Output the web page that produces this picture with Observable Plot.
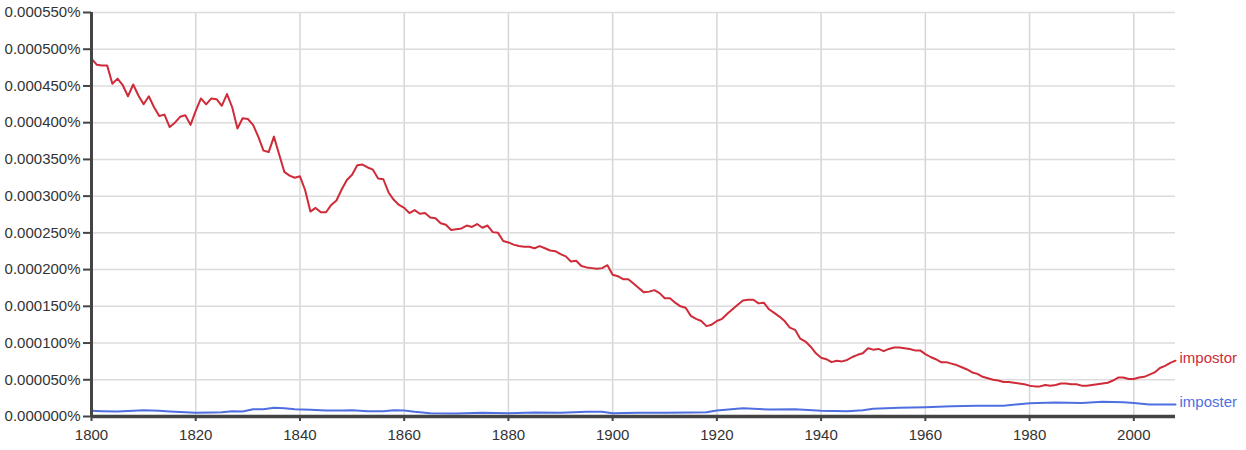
<!DOCTYPE html>
<html>
<head>
<meta charset="utf-8">
<script src="https://cdn.jsdelivr.net/npm/d3@7"></script>
<script src="https://cdn.jsdelivr.net/npm/@observablehq/plot@0.6"></script>
<style>
  html, body { margin: 0; padding: 0; background: #fff; }
  #chart svg { display: block; }
</style>
</head>
<body>
<div id="chart"></div>
<script>
// Values are in millionths of a percent (e.g. 487 = 0.000487%)
const impostorYears = d3.range(1800, 2009);
const impostorValues = [
  487, 479, 478, 478, 453, 460, 451, 436, 452, 437,
  425, 436, 421, 409, 411, 394, 400, 408, 410, 397,
  416, 433, 425, 433, 432, 423, 439, 421, 392, 406,
  405, 397, 381, 362, 360, 381, 357, 333, 328, 325,
  327, 308, 279, 284, 278, 278, 288, 294, 309, 322,
  329, 342, 343, 339, 336, 324, 323, 305, 295, 288,
  284, 277, 281, 276, 277, 271, 270, 263, 261, 254,
  255, 256, 260, 258, 262, 257, 260, 251, 250, 239,
  237, 234, 232, 231, 231, 229, 232, 229, 226, 225,
  221, 218, 211, 212, 205, 203, 202, 201, 202, 206,
  193, 191, 187, 187, 181, 175, 169, 170, 172, 168,
  161, 161, 155, 150, 148, 137, 133, 130, 123, 125,
  130, 133, 140, 146, 152, 158, 159, 159, 154, 155,
  146, 141, 136, 130, 121, 118, 106, 102, 95, 86,
  80, 78, 74, 76, 75, 77, 81, 84, 86, 93,
  91, 92, 89, 92, 94, 94, 93, 92, 90, 90,
  85, 81, 78, 74, 74, 72, 70, 67, 64, 60,
  58, 54, 52, 50, 49, 47, 47, 46, 45, 44,
  42, 41, 41, 43, 42, 43, 45, 45, 44, 44,
  42, 42, 43, 44, 45, 46, 49, 53, 53, 51,
  51, 53, 54, 57, 60, 66, 69, 73, 76
];
const imposterYears = [
  1800, 1802, 1805, 1808, 1810, 1813, 1815, 1818, 1820, 1823, 1825, 1827, 1829,
  1831, 1833, 1835, 1837, 1839, 1842, 1845, 1848, 1850, 1853, 1856, 1858, 1860,
  1862, 1865, 1870, 1875, 1880, 1885, 1890, 1895, 1898, 1900, 1905, 1910, 1915,
  1918, 1920, 1925, 1930, 1935, 1940, 1945, 1948, 1950, 1955, 1960, 1965, 1970,
  1975, 1978, 1980, 1985, 1990, 1994, 1998, 2000, 2003, 2008
];
const imposterValues = [
  7.7, 7.3, 6.8, 7.7, 8.6, 7.7, 6.8, 5.9, 5.0, 5.4, 5.9, 7.3, 6.8,
  10, 10, 11.8, 11.3, 10, 9.1, 8.2, 8.2, 8.6, 7.3, 7.3, 8.6, 8.2,
  6.4, 4.5, 4.1, 5.0, 4.5, 5.4, 5.0, 6.4, 6.4, 4.5, 5.0, 5.0, 5.4,
  5.9, 8.2, 11.3, 9.5, 10, 7.7, 7.3, 8.6, 10.4, 11.8, 12.7, 14.1, 14.5,
  14.5, 16.8, 18, 19, 18.5, 20, 19.3, 18.5, 16.3, 16.5
];
const xTicks = [1800, 1820, 1840, 1860, 1880, 1900, 1920, 1940, 1960, 1980, 2000];
const yTicks = [0, 50, 100, 150, 200, 250, 300, 350, 400, 450, 500, 550];
const seriesNames = ["impostor", "imposter"];
const seriesColors = ["#cf2b38", "#4f6fe0"];

const impostor = impostorYears.map((year, i) => ({year, value: impostorValues[i]}));
const imposter = imposterYears.map((year, i) => ({year, value: imposterValues[i]}));
const ends = [
  {year: impostorYears[impostorYears.length - 1], value: impostorValues[impostorValues.length - 1], name: seriesNames[0], color: seriesColors[0]},
  {year: imposterYears[imposterYears.length - 1], value: imposterValues[imposterValues.length - 1], name: seriesNames[1], color: seriesColors[1]}
];

const font = "'Liberation Sans', Arial, Helvetica, sans-serif";

const chart = Plot.plot({
  width: 1246,
  height: 450,
  marginLeft: 91,
  marginRight: 71,
  marginTop: 12,
  marginBottom: 34,
  style: {fontFamily: font, fontSize: "15px", background: "#fff", color: "#333"},
  x: {domain: [1800, 2008]},
  y: {domain: [0, 550]},
  marks: [
    Plot.gridX(xTicks.slice(1), {stroke: "#d6d6d6", strokeOpacity: 1, strokeWidth: 1.5}),
    Plot.gridY(yTicks.slice(1), {stroke: "#dcdcdc", strokeOpacity: 1, strokeWidth: 1.5}),
    Plot.line(imposter, {x: "year", y: "value", stroke: seriesColors[1], strokeWidth: 2}),
    Plot.line(impostor, {x: "year", y: "value", stroke: seriesColors[0], strokeWidth: 2}),
    Plot.axisY(yTicks, {
      tickSize: 8, tickPadding: 3, fontSize: 15, fill: "#333", stroke: "#444", strokeWidth: 2,
      tickFormat: d => (d * 1e-6).toFixed(6) + "%", label: null
    }),
    Plot.axisX(xTicks, {
      tickSize: 5, tickPadding: 8, fontSize: 15, fill: "#333", stroke: "#444", strokeWidth: 2,
      tickFormat: d => String(d), label: null
    }),
    Plot.ruleX([1800], {stroke: "#444", strokeWidth: 3, y1: 0, y2: 550}),
    Plot.ruleY([0], {stroke: "#444", strokeWidth: 3.5, x1: 1800, x2: 2008}),
    Plot.text(ends, {x: "year", y: "value", text: "name", fill: "color", dx: 4, dy: -2, textAnchor: "start", fontSize: 15})
  ]
});
document.getElementById("chart").appendChild(chart);
</script>
</body>
</html>
